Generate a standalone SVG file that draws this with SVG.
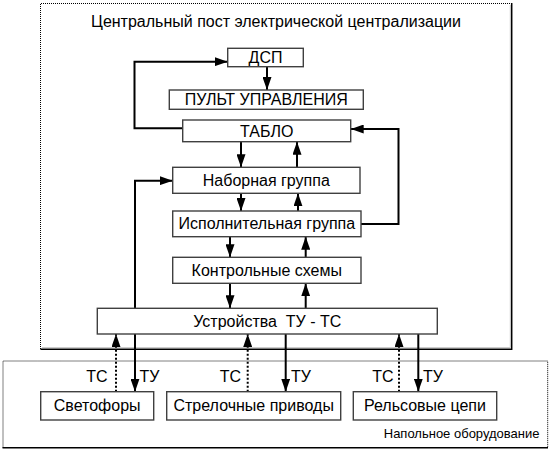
<svg xmlns="http://www.w3.org/2000/svg" width="553" height="464" viewBox="0 0 553 464">
<style>
text{font-family:"Liberation Sans",Arial,sans-serif;fill:#000}
.t{font-size:16px;text-anchor:middle}
.lbl{font-size:16px}
.box{fill:#fff;stroke:#404040;stroke-width:1.4}
.c{fill:none;stroke:#000;stroke-width:2}
.d{fill:none;stroke:#000;stroke-width:2;stroke-dasharray:2,2}
.dot{fill:none;stroke:#000;stroke-width:1;stroke-dasharray:1,1}
.sol{fill:none;stroke:#000;stroke-width:1.5}
</style>
<defs>
<marker id="ah" viewBox="0 0 13 9" markerWidth="13" markerHeight="9" refX="13" refY="4.5" orient="auto" markerUnits="userSpaceOnUse">
<path d="M0,0 L13,4.5 L0,9 z" fill="#000"/>
</marker>
</defs>
<rect width="553" height="464" fill="#fff"/>
<g id="frame-central">
<path class="dot" d="M512,3.5 H40.5 V349"/>
<path d="M510.3,5 V347.6 H42" fill="none" stroke="#c8c8c8" stroke-width="1"/>
<path class="sol" d="M40.5,349.3 H511.7 V3"/>
<text x="276" y="27.3" style="font-size:16px;text-anchor:middle">Центральный пост электрической централизации</text>
</g>
<g id="frame-field">
<path class="dot" d="M3,447.5 V361 H547.7 V447.5"/>
<path class="sol" d="M2.5,447.7 H548"/>
<text x="539.5" y="438.3" style="font-size:13px;text-anchor:end">Напольное оборудование</text>
</g>
<g id="connectors">
<path class="c" d="M182.7,128.3 H134.5 V61.7 H227.7" marker-end="url(#ah)"/>
<path class="c" d="M267,66.7 V90" marker-end="url(#ah)"/>
<path class="c" d="M361,224 H398.5 V129 H350.7" marker-end="url(#ah)"/>
<path class="c" d="M241,141.7 V167.3" marker-end="url(#ah)"/>
<path class="c" d="M297,167.3 V141.7" marker-end="url(#ah)"/>
<path class="c" d="M241,193.3 V211" marker-end="url(#ah)"/>
<path class="c" d="M298,211 V193.3" marker-end="url(#ah)"/>
<path class="c" d="M230,236.7 V257.3" marker-end="url(#ah)"/>
<path class="c" d="M305.7,257.3 V236.7" marker-end="url(#ah)"/>
<path class="c" d="M230,283.3 V308.3" marker-end="url(#ah)"/>
<path class="c" d="M305.7,308.3 V283.3" marker-end="url(#ah)"/>
<path class="c" d="M135,308.3 V180.7 H172.7" marker-end="url(#ah)"/>
<path class="d" d="M116,391.7 V334" marker-end="url(#ah)"/>
<path class="c" d="M135,334 V391.7" marker-end="url(#ah)"/>
<path class="d" d="M247.7,391.7 V334" marker-end="url(#ah)"/>
<path class="c" d="M285.7,334 V391.7" marker-end="url(#ah)"/>
<path class="d" d="M399,391.7 V334" marker-end="url(#ah)"/>
<path class="c" d="M418.3,334 V391.7" marker-end="url(#ah)"/>
<text class="lbl" x="107.5" y="382" text-anchor="end">ТС</text>
<text class="lbl" x="139.5" y="382">ТУ</text>
<text class="lbl" x="241" y="382" text-anchor="end">ТС</text>
<text class="lbl" x="291" y="382">ТУ</text>
<text class="lbl" x="393.5" y="382" text-anchor="end">ТС</text>
<text class="lbl" x="423" y="382">ТУ</text>
</g>
<g id="dsp">
<rect class="box" x="227.7" y="48.3" width="75.6" height="18.4"/>
<text class="t" x="265.5" y="62.8">ДСП</text>
</g>
<g id="pult">
<rect class="box" x="169.3" y="90" width="194" height="19.3"/>
<text class="t" x="266.3" y="104.5">ПУЛЬТ УПРАВЛЕНИЯ</text>
</g>
<g id="tablo">
<rect class="box" x="182.7" y="120" width="168" height="21.7"/>
<text class="t" x="266.7" y="136.7">ТАБЛО</text>
</g>
<g id="nabor">
<rect class="box" x="172.7" y="167.3" width="187.3" height="26"/>
<text class="t" x="266.3" y="185.5">Наборная группа</text>
</g>
<g id="ispoln">
<rect class="box" x="172.7" y="211" width="188.3" height="25.7"/>
<text class="t" x="266.8" y="229">Исполнительная группа</text>
</g>
<g id="kontrol">
<rect class="box" x="172.7" y="257.3" width="188.3" height="26"/>
<text class="t" x="266.8" y="275.5">Контрольные схемы</text>
</g>
<g id="ustr">
<rect class="box" x="97.3" y="308.3" width="340" height="25.7"/>
<text class="t" x="267.3" y="326.5" xml:space="preserve">Устройства  ТУ - ТС</text>
</g>
<g id="svetofory">
<rect class="box" x="40.7" y="391.7" width="113" height="28.3"/>
<text class="t" x="97.2" y="411">Светофоры</text>
</g>
<g id="strel">
<rect class="box" x="166.7" y="391.7" width="174" height="28.3"/>
<text class="t" x="253.7" y="411">Стрелочные приводы</text>
</g>
<g id="rels">
<rect class="box" x="353.3" y="391.7" width="143.4" height="28.3"/>
<text class="t" x="425" y="411">Рельсовые цепи</text>
</g>
</svg>
